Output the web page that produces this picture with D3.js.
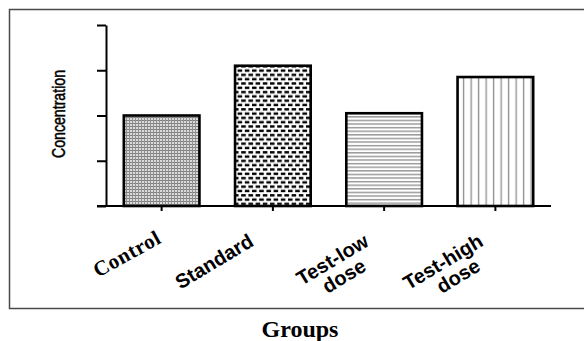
<!DOCTYPE html>
<html>
<head>
<meta charset="utf-8">
<script src="https://cdn.jsdelivr.net/npm/d3@7"></script>
<style>
  html, body { margin: 0; padding: 0; background: #fff; }
  svg { display: block; }
</style>
</head>
<body>
<div id="chart"></div>
<script>
// Group names (each entry is one label, lines split by "|")
const categories = ["Control", "Standard", "Test-low|dose", "Test-high|dose"];
// Mean concentration per group
const values = [2.0, 3.1, 2.05, 2.85];
// Y axis tick positions (drawn without numbers)
const yTicks = [0, 1, 2, 3, 4];
const xTitle = "Groups";
const yTitle = "Concentration";

const W = 584, H = 341;
const svg = d3.select("#chart").append("svg")
  .attr("width", W).attr("height", H);

// Hatch fills, one per group
const defs = svg.append("defs");

const pCtl = defs.append("pattern").attr("id", "p0")
  .attr("patternUnits", "userSpaceOnUse").attr("width", 3).attr("height", 3);
pCtl.append("rect").attr("width", 3).attr("height", 3).attr("fill", "#dadada");
pCtl.append("rect").attr("width", 3).attr("height", 1).attr("fill", "#808080");
pCtl.append("rect").attr("width", 1).attr("height", 3).attr("fill", "#909090");

const pStd = defs.append("pattern").attr("id", "p1")
  .attr("patternUnits", "userSpaceOnUse").attr("width", 7.2).attr("height", 8.6);
pStd.append("rect").attr("width", 7.2).attr("height", 8.6).attr("fill", "#fff");
pStd.append("rect").attr("x", 0).attr("y", 0.6).attr("width", 4.6).attr("height", 2.4).attr("fill", "#000");
pStd.append("rect").attr("x", 3.6).attr("y", 4.9).attr("width", 4.6).attr("height", 2.4).attr("fill", "#000");
pStd.append("rect").attr("x", -3.6).attr("y", 4.9).attr("width", 4.6).attr("height", 2.4).attr("fill", "#000");

const pLow = defs.append("pattern").attr("id", "p2")
  .attr("patternUnits", "userSpaceOnUse").attr("width", 6).attr("height", 3.6);
pLow.append("rect").attr("width", 6).attr("height", 3.6).attr("fill", "#fff");
pLow.append("rect").attr("y", 1).attr("width", 6).attr("height", 1.3).attr("fill", "#8c8c8c");

const pHigh = defs.append("pattern").attr("id", "p3")
  .attr("patternUnits", "userSpaceOnUse").attr("width", 7.5).attr("height", 6);
pHigh.append("rect").attr("width", 7.5).attr("height", 6).attr("fill", "#fff");
pHigh.append("rect").attr("x", 5.5).attr("width", 1.3).attr("height", 6).attr("fill", "#8c8c8c");

// Frame around the plot
svg.append("rect")
  .attr("x", 9.5).attr("y", 9.5).attr("width", 600).attr("height", 299)
  .attr("fill", "none").attr("stroke", "#4a4a4a").attr("stroke-width", 1.5);

const plot = { left: 106, right: 551, top: 25, bottom: 206 };

const x = d3.scaleBand()
  .domain(categories)
  .range([plot.left, plot.right])
  .paddingInner(0.32)
  .paddingOuter(0.16);

const y = d3.scaleLinear()
  .domain([0, 4])
  .range([plot.bottom, plot.top]);

// Bars
svg.append("g").selectAll("rect")
  .data(categories)
  .join("rect")
  .attr("x", d => x(d))
  .attr("y", (d, i) => y(values[i]))
  .attr("width", x.bandwidth())
  .attr("height", (d, i) => y(0) - y(values[i]))
  .attr("fill", (d, i) => `url(#p${i})`)
  .attr("stroke", "#000")
  .attr("stroke-width", 2.6);

// Y axis (ticks only, no numbers)
const yAxis = svg.append("g")
  .attr("transform", `translate(${plot.left},0)`)
  .call(d3.axisLeft(y).tickValues(yTicks).tickFormat("").tickSize(9).tickSizeOuter(0));
yAxis.select(".domain").attr("stroke", "#000").attr("stroke-width", 2);
yAxis.selectAll(".tick line").attr("stroke", "#000").attr("stroke-width", 2);

// X axis: baseline runs under the y ticks
svg.append("line")
  .attr("x1", plot.left - 9).attr("x2", plot.right)
  .attr("y1", plot.bottom).attr("y2", plot.bottom)
  .attr("stroke", "#000").attr("stroke-width", 2);
const xAxis = svg.append("g")
  .attr("transform", `translate(0,${plot.bottom})`)
  .call(d3.axisBottom(x).tickFormat("").tickSize(5).tickSizeOuter(0));
xAxis.select(".domain").remove();
xAxis.selectAll(".tick line").attr("stroke", "#000").attr("stroke-width", 2);

// Slanted group labels
const labelNudge = [1, -18, -14, -11];
const angle = -31;
const labels = svg.append("g").selectAll("text")
  .data(categories)
  .join("text")
  .attr("transform", (d, i) =>
    `translate(${x(d) + x.bandwidth() / 2 + labelNudge[i]},${i === 0 ? 242 : 245}) rotate(${i === 0 ? -29 : angle})`)
  .attr("text-anchor", "end")
  .attr("font-family", (d, i) => i === 0 ? "'Liberation Serif', 'Times New Roman', serif" : "'Liberation Sans', Arial, sans-serif")
  .attr("font-weight", "bold")
  .attr("font-size", (d, i) => i === 0 ? 21 : 20)
  .attr("letter-spacing", (d, i) => i === 0 ? 0.6 : 0)
  .attr("fill", "#000");

labels.each(function(d) {
  const lines = d.split("|");
  const t = d3.select(this);
  lines.forEach((ln, k) => {
    t.append("tspan")
      .attr("x", 0)
      .attr("dx", k === 0 ? 0 : "-0.75em")
      .attr("dy", k === 0 ? 0 : "1.0em")
      .text(ln);
  });
});

// Axis titles (y title is a condensed face)
svg.append("text")
  .attr("transform", `translate(65,${(70 + 158) / 2}) rotate(-90)`)
  .attr("text-anchor", "middle")
  .attr("font-family", "'Liberation Sans', Arial, sans-serif")
  .attr("font-size", 19)
  .attr("textLength", 88)
  .attr("lengthAdjust", "spacingAndGlyphs")
  .attr("fill", "#000")
  .attr("stroke", "#000")
  .attr("stroke-width", 0.5)
  .text(yTitle);

svg.append("text")
  .attr("x", 300).attr("y", 337)
  .attr("text-anchor", "middle")
  .attr("font-family", "'Liberation Serif', 'Times New Roman', serif")
  .attr("font-weight", "bold")
  .attr("font-size", 24)
  .attr("fill", "#000")
  .text(xTitle);
</script>
</body>
</html>
